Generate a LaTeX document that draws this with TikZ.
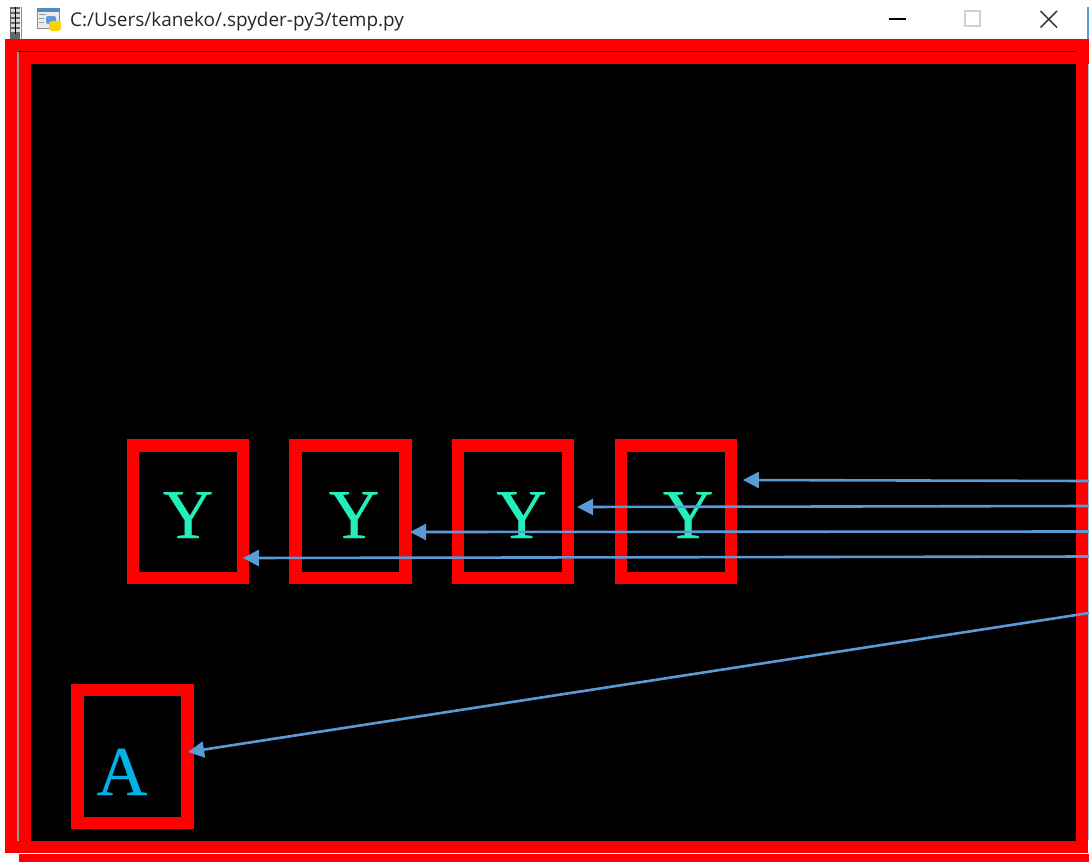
\documentclass[tikz,border=0pt]{standalone}
\usepackage{fontspec}
\setmainfont{Liberation Serif}
\newfontfamily\uifont{Open Sans}
\newfontfamily\glyphfont[FakeBold=0.5]{Liberation Serif}
\usetikzlibrary{arrows.meta}
\definecolor{frame}{RGB}{255,0,0}
\definecolor{conn}{RGB}{91,155,213}
\definecolor{ygreen}{RGB}{36,238,186}
\definecolor{acyan}{RGB}{0,178,232}
\tikzset{
  x=1pt,y=-1pt,
  band/.style={fill=frame,draw=none},
  markbox/.style={draw=frame,line width=12.2pt,rectangle,minimum width=110pt,minimum height=132.4pt,inner sep=0pt,fill=black},
  glyph/.style={font=\glyphfont\fontsize{70}{70}\selectfont,inner sep=0pt,anchor=base},
  conline/.style={draw=conn,line width=2.6pt,-{Triangle[length=16pt,width=16pt]}},
  ctrl/.style={line width=1.5pt}
}
\begin{document}
\begin{tikzpicture}
\useasboundingbox (0,0) rectangle (1089,862);
\fill[white] (0,0) rectangle (1089,862);
% title bar
\fill[black!60] (10,7) rectangle (20,39);
\foreach \yy in {9,14,19,24,29}{\fill[white!85!black] (10.5,\yy) rectangle (19.5,\yy+3);}
\fill[black] (14.5,7) rectangle (15.5,34);
\fill[conn] (20.5,7) rectangle (22,39);
\fill[conn] (1087,7) rectangle (1089,39);
% python icon
\fill[black!8] (37,9) rectangle (59,28);
\draw[black!45,line width=0.8pt] (37.5,9) rectangle (59,28);
\fill[conn!90!black] (37,8) rectangle (60,11.5);
\fill[black!40] (39,14) rectangle (46,15);
\fill[black!40] (39,18) rectangle (44,19);
\fill[black!40] (39,22) rectangle (44,23);
\fill[conn,rounded corners=2pt] (46,16) rectangle (56,24);
\fill[yellow!70!orange,rounded corners=3pt] (49,21) rectangle (61,31);
\node[font=\uifont\fontsize{18.95}{20}\selectfont,text=black!85,inner sep=0pt,anchor=base west] (title) at (70,27) {C:/Users/kaneko/.spyder-py3/temp.py};
\draw[black,ctrl] (889,19) -- (906,19);
\draw[black!18,line width=1.6pt] (965,11) rectangle (980,26);
\draw[black!75,ctrl] (1040.5,11) -- (1057,27.5) (1057,11) -- (1040.5,27.5);
% frame
\fill[black] (31,64) rectangle (1076,841);
\fill[band] (5,39) rectangle (1089,64);
\fill[band] (5,39) rectangle (17,852.5);
\fill[band] (19,52) rectangle (31,862);
\fill[band] (5,841) rectangle (1088,852.5);
\fill[band] (19,854) rectangle (1089,862);
\fill[band] (1076,39) rectangle (1088,854);
\fill[black!40] (17,52) rectangle (19,841);
\fill[black!80!frame] (19,51) rectangle (1076,52);
\fill[white] (19,852.5) rectangle (1088,854);
\fill[conn!60!white] (1088,64) rectangle (1089,840);
% boxes
\node[markbox] (b1) at (187.8,511.7) {};
\node[markbox] (b2) at (350.5,511.7) {};
\node[markbox] (b3) at (513,511.7) {};
\node[markbox] (b4) at (675.8,511.7) {};
\node[markbox] (b5) at (132.5,756.4) {};
\node[glyph,text=ygreen] (y1) at (188,538) {Y};
\node[glyph,text=ygreen] (y2) at (354,538) {Y};
\node[glyph,text=ygreen] (y3) at (521.5,538) {Y};
\node[glyph,text=ygreen] (y4) at (688,538) {Y};
\node[glyph,text=acyan] (a1) at (122,795) {A};
% connector ends
\coordinate (r1) at (1089,481);
\coordinate (r2) at (1089,506);
\coordinate (r3) at (1089,531.5);
\coordinate (r4) at (1089,556.5);
\coordinate (r5) at (1089,613);
\draw[conline] (r1) -- ([shift={(6,-31.7)}]b4.east);
\draw[conline] (r2) -- ([shift={(3,-4.7)}]b3.east);
\draw[conline] (r3) -- ([shift={(-1.5,20.3)}]b2.east);
\draw[conline] (r4) -- ([shift={(-6,46.3)}]b1.east);
\draw[conline] (r5) -- ([shift={(-5.5,-4.4)}]b5.east);
\end{tikzpicture}
\end{document}
